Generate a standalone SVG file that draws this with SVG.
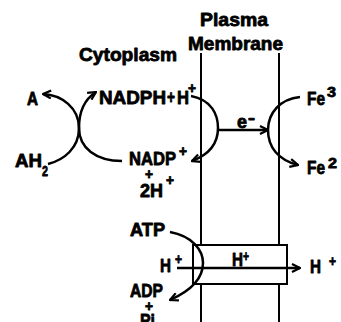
<svg xmlns="http://www.w3.org/2000/svg" width="341" height="322" viewBox="0 0 341 322">
<defs>
<style>
text{font-family:"Liberation Sans",Arial,sans-serif;font-weight:bold;font-size:19px;fill:#000;stroke:#000;stroke-width:0.8;stroke-linejoin:round}
.s{font-size:15px}
.ln{stroke:#000;stroke-width:2;fill:none}
.cn{stroke:#000;stroke-width:2.5;fill:none;marker-end:url(#ah)}
</style>
<marker id="ah" viewBox="0 0 10 10" refX="9" refY="5" markerWidth="10" markerHeight="10" markerUnits="userSpaceOnUse" orient="auto">
<path d="M1,1 L9,5 L1,9" fill="none" stroke="#000" stroke-width="2.2"/>
</marker>
</defs>
<rect width="341" height="322" fill="#fff"/>
<g id="membrane">
<text x="200" y="26" textLength="68" lengthAdjust="spacingAndGlyphs">Plasma</text>
<text x="188" y="50" textLength="95" lengthAdjust="spacingAndGlyphs">Membrane</text>
<path class="ln" d="M201 53 V245 M201 284 V322 M279 53 V245 M279 284 V322"/>
</g>
<g id="cytoplasm"><text x="79" y="61" textLength="98" lengthAdjust="spacingAndGlyphs">Cytoplasm</text></g>
<g id="pump"><rect class="ln" x="193" y="245" width="94" height="39"/></g>
<g id="A"><text x="27" y="105" textLength="11" lengthAdjust="spacingAndGlyphs">A</text></g>
<g id="AH2"><text x="15" y="167" textLength="27" lengthAdjust="spacingAndGlyphs">AH</text><text class="s" x="42" y="176" textLength="6" lengthAdjust="spacingAndGlyphs">2</text></g>
<g id="NADPH"><text x="99" y="104" textLength="67" lengthAdjust="spacingAndGlyphs">NADPH</text><text x="167" y="103" textLength="8" lengthAdjust="spacingAndGlyphs">+</text><text x="177" y="104" textLength="12" lengthAdjust="spacingAndGlyphs">H</text><text class="s" x="188" y="93" textLength="8" lengthAdjust="spacingAndGlyphs">+</text></g>
<g id="NADP"><text x="129" y="165" textLength="47" lengthAdjust="spacingAndGlyphs">NADP</text><text class="s" x="179" y="156" textLength="8" lengthAdjust="spacingAndGlyphs">+</text><text class="s" x="145" y="179" textLength="8" lengthAdjust="spacingAndGlyphs">+</text><text x="140" y="197" textLength="23" lengthAdjust="spacingAndGlyphs">2H</text><text class="s" x="166" y="185" textLength="8" lengthAdjust="spacingAndGlyphs">+</text></g>
<g id="electron"><text x="237" y="128" textLength="10" lengthAdjust="spacingAndGlyphs">e</text><text class="s" x="248" y="123" textLength="7" lengthAdjust="spacingAndGlyphs">-</text></g>
<g id="Fe3"><text x="307" y="105" textLength="18" lengthAdjust="spacingAndGlyphs">Fe</text><text class="s" x="327" y="97" textLength="9" lengthAdjust="spacingAndGlyphs">3</text></g>
<g id="Fe2"><text x="307" y="174" textLength="18" lengthAdjust="spacingAndGlyphs">Fe</text><text class="s" x="328" y="168" textLength="9" lengthAdjust="spacingAndGlyphs">2</text></g>
<g id="ATP"><text x="130" y="236" textLength="35" lengthAdjust="spacingAndGlyphs">ATP</text></g>
<g id="H-in"><text x="160" y="272" textLength="11" lengthAdjust="spacingAndGlyphs">H</text><text class="s" x="175" y="264" textLength="7" lengthAdjust="spacingAndGlyphs">+</text></g>
<g id="H-pump"><text x="232" y="266" textLength="11" lengthAdjust="spacingAndGlyphs">H</text><text class="s" x="243" y="261" textLength="6" lengthAdjust="spacingAndGlyphs">+</text></g>
<g id="H-out"><text x="310" y="273" textLength="11" lengthAdjust="spacingAndGlyphs">H</text><text class="s" x="329" y="266" textLength="7" lengthAdjust="spacingAndGlyphs">+</text></g>
<g id="ADP"><text x="130" y="297" textLength="33" lengthAdjust="spacingAndGlyphs">ADP</text><text class="s" x="145" y="311" textLength="8" lengthAdjust="spacingAndGlyphs">+</text><text x="140" y="327" textLength="15" lengthAdjust="spacingAndGlyphs">Pi</text></g>
<g id="connectors">
<path class="cn" d="M48 164 C64 160 79 148 79 128 C79 108 62 95 43 94"/>
<path class="cn" d="M122 161 C96 161 79 148 79 128 C79 110 85 99 96 92"/>
<path class="cn" d="M191 96 C212 100 218 115 218 128 C218 145 208 155 192 161"/>
<path class="cn" d="M218 130 L268 130"/>
<path class="cn" d="M300 97 C280 99 268 113 268 130 C268 147 278 160 298 165"/>
<path class="cn" d="M170 232 C192 236 203 250 203 263 C203 280 188 292 170 300"/>
<path class="cn" d="M177 268 L300 268"/>
</g>
</svg>
